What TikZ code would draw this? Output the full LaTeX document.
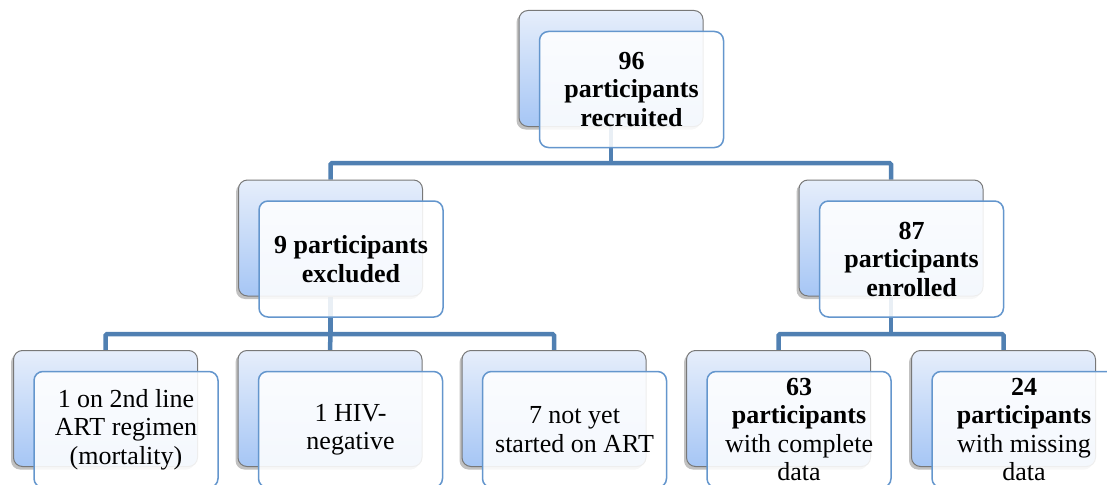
\documentclass[tikz,border=0pt]{standalone}
\usepackage{fontspec}
\setmainfont{Liberation Serif}
\usetikzlibrary{shadows,positioning}
\pgfdeclarelayer{bg}
\pgfsetlayers{bg,main}
\definecolor{bkTop}{RGB}{230,238,251}
\definecolor{bkBot}{RGB}{166,198,245}
\definecolor{bkLine}{RGB}{120,120,120}
\definecolor{frLine}{RGB}{100,150,205}
\definecolor{conn}{RGB}{80,128,178}
\tikzset{
  backbox/.style={draw=bkLine, line width=1pt, rounded corners=9pt,
    top color=bkTop, bottom color=bkBot, minimum width=184pt, minimum height=116pt,
    inner sep=0pt,
    drop shadow={shadow xshift=-2.5pt, shadow yshift=-3pt, opacity=0.35, fill=black!70}},
  frontbox/.style={draw=frLine, line width=1.5pt, rounded corners=9pt,
    fill=white, fill opacity=0.88, text opacity=1, minimum width=184pt, minimum height=116pt,
    inner sep=0pt, align=center, font=\fontsize{26}{28.5}\selectfont},
  connector/.style={draw=conn, line width=4.5pt, rounded corners=1.5pt}
}
\newcommand\mybox[4]{%
  \node[backbox] (#1) at (#2,#3) {};
  \node[frontbox] (#1f) at ([shift={(20.5,21)}]#1.center) {#4};
}
\begin{document}
\begin{tikzpicture}[x=1pt,y=-1pt]
\useasboundingbox (0,0) rectangle (1107,484);
\mybox{top}{611}{68.5}{\textbf{96}\\\textbf{participants}\\\textbf{recruited}}
\mybox{exc}{330.5}{238}{\textbf{9 participants}\\\textbf{excluded}}
\mybox{enr}{891}{238}{\textbf{87}\\\textbf{participants}\\\textbf{enrolled}}
\mybox{la}{105.5}{408.5}{1 on 2nd line\\ART regimen\\(mortality)}
\mybox{lb}{330}{408.5}{1 HIV-\\negative}
\mybox{lc}{554}{408.5}{7 not yet\\started on ART}
\mybox{ra}{778.5}{408.5}{\textbf{63}\\\textbf{participants}\\with complete\\data}
\mybox{rb}{1003.5}{408.5}{\textbf{24}\\\textbf{participants}\\with missing\\data}
\coordinate (bus1) at (611,163);
\coordinate (bus2) at (330.5,334);
\coordinate (bus3) at (891,334);
\begin{pgfonlayer}{bg}
\draw[connector] (top.south) -- (bus1);
\draw[connector] (exc.north) |- (bus1) -| (enr.north);
\draw[connector] (exc.south) -- (bus2);
\draw[connector] (la.north) |- (bus2) -| (lc.north);
\draw[connector] (bus2) -- (lb.north);
\draw[connector] (enr.south) -- (bus3);
\draw[connector] (ra.north) |- (bus3) -| (rb.north);
\end{pgfonlayer}
\end{tikzpicture}
\end{document}
